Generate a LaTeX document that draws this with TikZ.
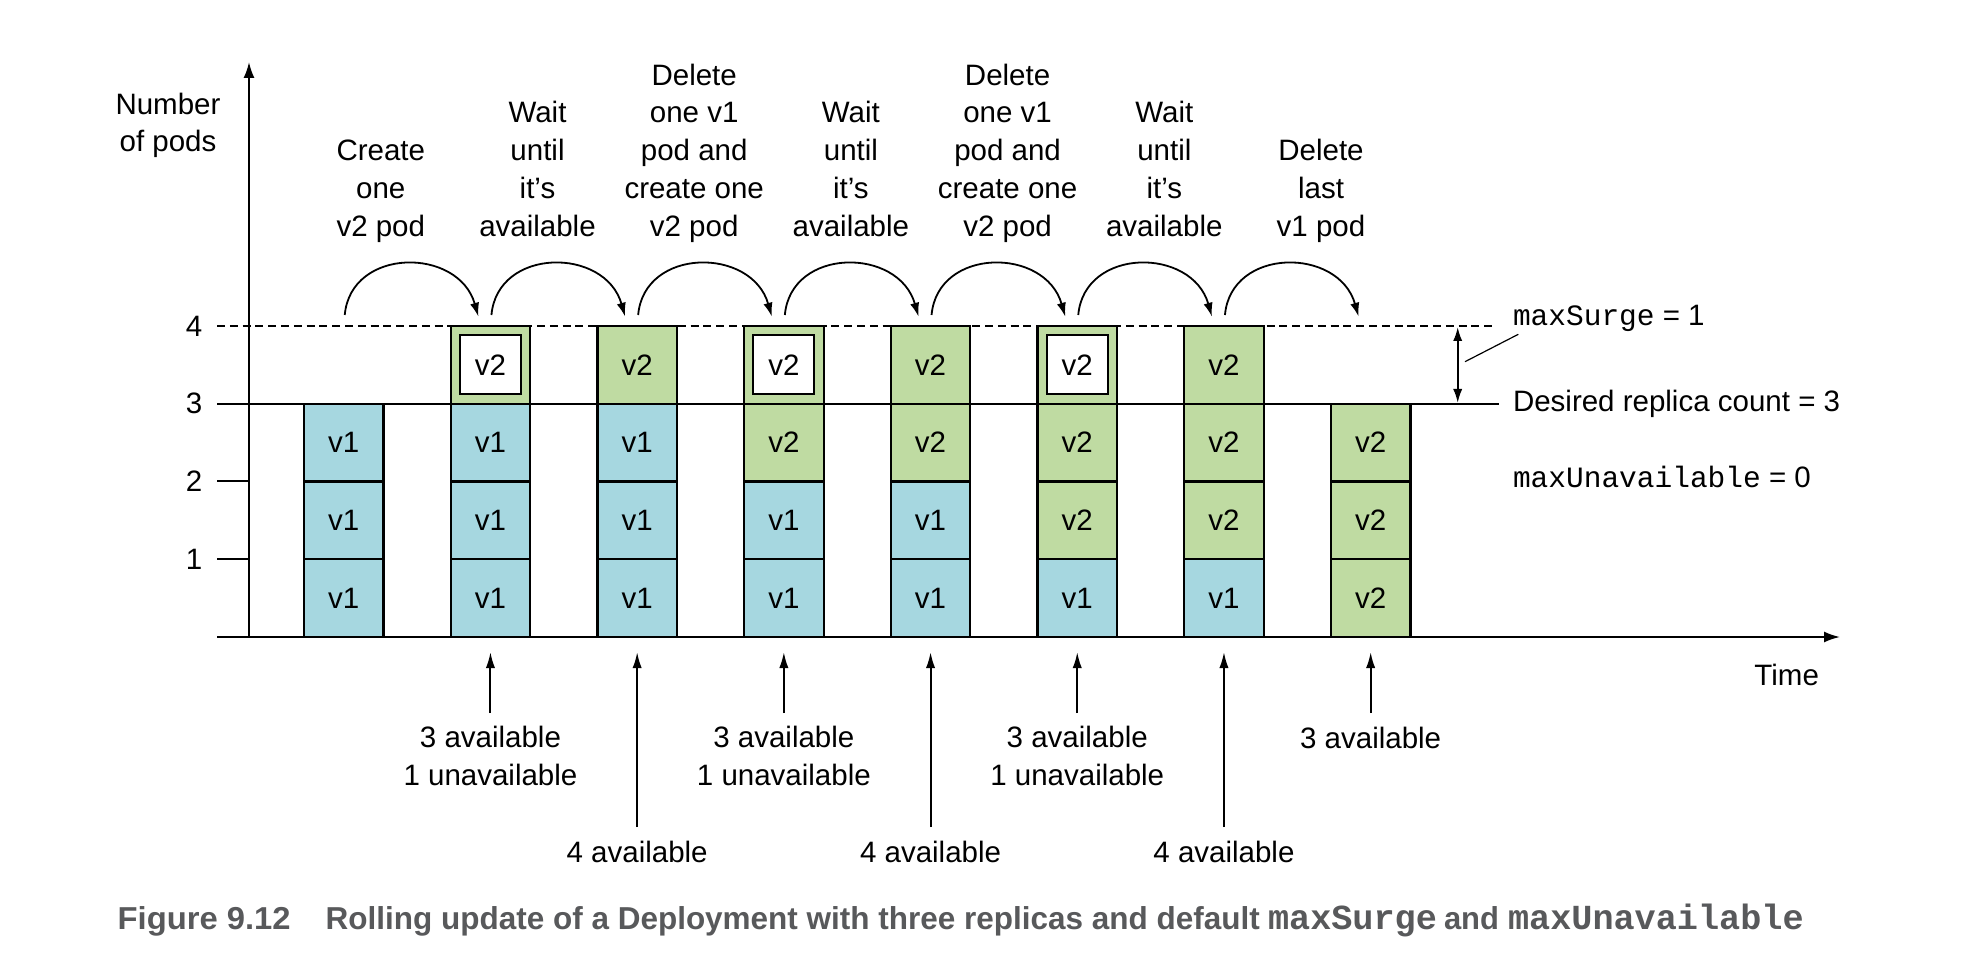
\documentclass[tikz,border=0pt]{standalone}
\usepackage{fontspec}
\setmainfont{Liberation Sans}
\setmonofont{Liberation Mono}
\usetikzlibrary{arrows.meta,calc}
\definecolor{podblue}{RGB}{166,215,224}
\definecolor{podgreen}{RGB}{191,219,162}
\definecolor{capgray}{RGB}{88,89,91}
\begin{document}
\begin{tikzpicture}[x=0.5pt,y=-0.5pt,
  every node/.style={font=\fontsize{14.75pt}{18.95pt}\selectfont, inner sep=0pt, outer sep=0pt},
  cell/.style={draw=black, line width=1.1pt, minimum width=39.75pt, minimum height=38.875pt, inner sep=0pt},
  pod1/.style={cell, fill=podblue},
  pod2/.style={cell, fill=podgreen},
  inbox/.style={draw=black, fill=white, line width=1.1pt, minimum width=30.5pt, minimum height=29.5pt},
  axis/.style={line width=1pt, -{Latex[length=8pt,width=5.5pt]}},
  refline/.style={line width=1pt},
  dashline/.style={line width=1pt, dash pattern=on 4pt off 2.4pt},
  steparc/.style={line width=0.9pt, -{Latex[length=7pt,width=4.6pt]}},
  pointer/.style={line width=1pt, -{Latex[length=8pt,width=4.6pt]}},
  toplabel/.style={align=center, anchor=base},
  botlabel/.style={align=center, anchor=base},
  captext/.style={anchor=base west, text=capgray, font=\fontsize{15.85pt}{19pt}\selectfont\bfseries},
  capmono/.style={anchor=base west, text=capgray, font=\fontsize{17.6pt}{19pt}\selectfont\ttfamily\bfseries}
]
\useasboundingbox (0,0) rectangle (1964,972);

% reference lines
\coordinate (d0) at (217,326); \coordinate (d1) at (1495,326);
\coordinate (s0) at (217,404); \coordinate (s1) at (1499,404);
\draw[dashline] (d0) -- (d1);
\draw[refline] (s0) -- (s1);

% axes
\coordinate (O) at (249,637);
\coordinate (ytop) at (249,62);
\coordinate (xl) at (217,637);
\coordinate (xr) at (1840,637);
\draw[axis] (O) -- (ytop);
\draw[axis] (xl) -- (xr);
\foreach \n/\yy in {1/559.25,2/481.5} {
  \coordinate (tk\n) at (217,\yy); \coordinate (tq\n) at (249,\yy);
  \draw[refline] (tk\n) -- (tq\n);
}
\foreach \n/\yy in {1/559.25,2/481.5,3/403.75,4/326} {
  \node (tl\n) at (194,\yy) {\n};
}
\node[align=center, anchor=base] (ylab) at (168,152) {Number\\of pods};
\node[anchor=base] (xlab) at (1786.7,685) {Time};

% columns
\def\ra{598.125}\def\rb{520.375}\def\rc{442.625}\def\rd{364.875}
% col 1
\node[pod1] (c1r1) at (343.75,\ra) {v1};
\node[pod1] (c1r2) at (343.75,\rb) {v1};
\node[pod1] (c1r3) at (343.75,\rc) {v1};
% col 2
\node[pod1] (c2r1) at (490.45,\ra) {v1};
\node[pod1] (c2r2) at (490.45,\rb) {v1};
\node[pod1] (c2r3) at (490.45,\rc) {v1};
\node[pod2] (c2r4) at (490.45,\rd) {};
\node[inbox] (c2in) at (c2r4) {v2};
% col 3
\node[pod1] (c3r1) at (637.15,\ra) {v1};
\node[pod1] (c3r2) at (637.15,\rb) {v1};
\node[pod1] (c3r3) at (637.15,\rc) {v1};
\node[pod2] (c3r4) at (637.15,\rd) {v2};
% col 4
\node[pod1] (c4r1) at (783.85,\ra) {v1};
\node[pod1] (c4r2) at (783.85,\rb) {v1};
\node[pod2] (c4r3) at (783.85,\rc) {v2};
\node[pod2] (c4r4) at (783.85,\rd) {};
\node[inbox] (c4in) at (c4r4) {v2};
% col 5
\node[pod1] (c5r1) at (930.55,\ra) {v1};
\node[pod1] (c5r2) at (930.55,\rb) {v1};
\node[pod2] (c5r3) at (930.55,\rc) {v2};
\node[pod2] (c5r4) at (930.55,\rd) {v2};
% col 6
\node[pod1] (c6r1) at (1077.25,\ra) {v1};
\node[pod2] (c6r2) at (1077.25,\rb) {v2};
\node[pod2] (c6r3) at (1077.25,\rc) {v2};
\node[pod2] (c6r4) at (1077.25,\rd) {};
\node[inbox] (c6in) at (c6r4) {v2};
% col 7
\node[pod1] (c7r1) at (1223.95,\ra) {v1};
\node[pod2] (c7r2) at (1223.95,\rb) {v2};
\node[pod2] (c7r3) at (1223.95,\rc) {v2};
\node[pod2] (c7r4) at (1223.95,\rd) {v2};
% col 8
\node[pod2] (c8r1) at (1370.65,\ra) {v2};
\node[pod2] (c8r2) at (1370.65,\rb) {v2};
\node[pod2] (c8r3) at (1370.65,\rc) {v2};

% step arcs
\foreach \i/\xa/\xb in {1/344.75/478.45, 2/491.45/625.15, 3/638.15/771.85, 4/784.85/918.55, 5/931.55/1065.25, 6/1078.25/1211.95, 7/1224.95/1358.65} {
  \coordinate (as\i) at (\xa,315);
  \coordinate (ae\i) at (\xb,316.7);
  \draw[steparc] (as\i) .. controls ($(as\i)+(6,-68)$) and ($(ae\i)+(-20,-70)$) .. (ae\i);
}

% step labels (base = last line)
\node[toplabel] (st1) at (380.8,236.7) {Create\\one\\v2 pod};
\node[toplabel] (st2) at (537.5,236.7) {Wait\\until\\it’s\\available};
\node[toplabel] (st3) at (694.2,236.7) {Delete\\one v1\\pod and\\create one\\v2 pod};
\node[toplabel] (st4) at (850.9,236.7) {Wait\\until\\it’s\\available};
\node[toplabel] (st5) at (1007.6,236.7) {Delete\\one v1\\pod and\\create one\\v2 pod};
\node[toplabel] (st6) at (1164.3,236.7) {Wait\\until\\it’s\\available};
\node[toplabel] (st7) at (1321,236.7) {Delete\\last\\v1 pod};

% right annotations
\coordinate (ms1) at (1457.7,327);
\coordinate (ms2) at (1457.7,403);
\draw[line width=1pt, {Latex[length=7pt,width=4.6pt]}-{Latex[length=7pt,width=4.6pt]}] (ms1) -- (ms2);
\node[anchor=base west] (msurge) at (1513,325.7) {\texttt{maxSurge} = 1};
\coordinate (ld1) at (1465,361.7);
\coordinate (ld2) at (1518.3,334.3);
\draw[line width=0.6pt] (ld1) -- (ld2);
\node[anchor=base west] (desired) at (1513,411.7) {Desired replica count = 3};
\node[anchor=base west] (munav) at (1513,488) {\texttt{maxUnavailable} = 0};

% bottom pointers
\foreach \k/\xx in {2/490.45, 4/783.85, 6/1077.25, 8/1370.65} {
  \coordinate (pb\k) at (\xx,713);
  \coordinate (pt\k) at (\xx,652);
  \draw[pointer] (pb\k) -- (pt\k);
}
\foreach \k/\xx in {3/637.15, 5/930.55, 7/1223.95} {
  \coordinate (pb\k) at (\xx,827);
  \coordinate (pt\k) at (\xx,652);
  \draw[pointer] (pb\k) -- (pt\k);
}
\node[botlabel] (bl2) at (490.45,785.7) {3 available\\1 unavailable};
\node[botlabel] (bl4) at (783.85,785.7) {3 available\\1 unavailable};
\node[botlabel] (bl6) at (1077.25,785.7) {3 available\\1 unavailable};
\node[botlabel] (bl8) at (1370.65,748) {3 available};
\node[botlabel] (bl3) at (637.15,862) {4 available};
\node[botlabel] (bl5) at (930.55,862) {4 available};
\node[botlabel] (bl7) at (1223.95,862) {4 available};

% caption
\node[captext] (cap1) at (117.7,929) {\resizebox{86.5pt}{\height}{Figure 9.12}};
\node[captext] (cap2) at (325.7,929) {\resizebox{467pt}{\height}{Rolling update of a Deployment with three replicas and default}};
\node[capmono] (cap3) at (1268,929) {maxSurge};
\node[captext] (cap4) at (1444,929) {\resizebox{27.5pt}{\height}{and}};
\node[capmono] (cap5) at (1508,929) {maxUnavailable};
\end{tikzpicture}
\end{document}
